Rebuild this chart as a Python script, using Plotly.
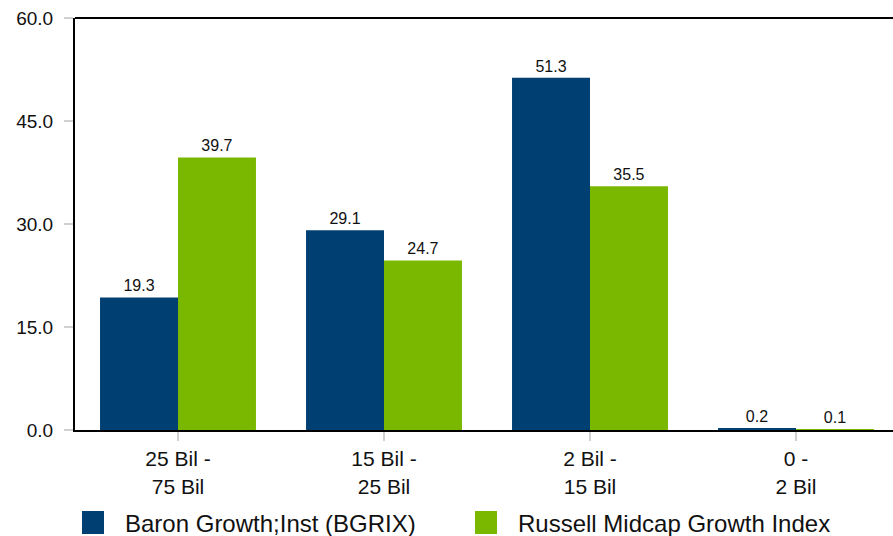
import plotly.graph_objects as go

categories = ["25 Bil -<br>75 Bil", "15 Bil -<br>25 Bil", "2 Bil -<br>15 Bil", "0 -<br>2 Bil"]
fund_name = "Baron Growth;Inst (BGRIX)"
index_name = "Russell Midcap Growth Index"
fund_values = [19.3, 29.1, 51.3, 0.2]
index_values = [39.7, 24.7, 35.5, 0.1]
y_ticks = [0, 15, 30, 45, 60]

BLUE = "#003f72"
GREEN = "#7ab800"
FONT = "Liberation Sans, Arial, sans-serif"

W = 899
L = 75
PW = W - L

fig = go.Figure()
for name, vals, col in [(fund_name, fund_values, BLUE), (index_name, index_values, GREEN)]:
    fig.add_trace(go.Bar(
        x=categories, y=vals, name=name, marker=dict(color=col, line=dict(width=0)),
        text=[f"{v:.1f}" for v in vals], textposition="outside",
        textfont=dict(size=16, color="#111", family=FONT), cliponaxis=False,
        showlegend=False,
    ))

fig.update_layout(
    width=W, height=536,
    margin=dict(l=L, r=0, t=18, b=106),
    plot_bgcolor="white", paper_bgcolor="white",
    barmode="group", bargap=0.243, bargroupgap=0,
    font=dict(family=FONT, size=19, color="#111"),
)
fig.update_xaxes(
    showline=True, linecolor="black", linewidth=2, ticks="outside", ticklen=9,
    tickcolor="#d0d0d0", tickwidth=2, showgrid=False, tickfont=dict(size=21),
)
fig.update_yaxes(
    range=[0, 60], tickvals=y_ticks, ticktext=[f"{v:.1f}" for v in y_ticks],
    showline=True, linecolor="black", linewidth=2, ticks="outside", ticklen=9,
    tickcolor="#d0d0d0", tickwidth=2, showgrid=False, zeroline=False,
    tickfont=dict(size=19), ticklabelstandoff=7,
)
# top border line of plot area
fig.add_shape(type="line", xref="paper", yref="paper", x0=0, x1=1, y0=1, y1=1,
              line=dict(color="black", width=2))

# custom legend
legend_items = [(fund_name, BLUE, 82), (index_name, GREEN, 475)]
for name, col, px in legend_items:
    x0 = (px - L) / PW
    x1 = (px + 22 - L) / PW
    fig.add_shape(type="rect", xref="paper", yref="paper", x0=x0, x1=x1,
                  y0=(430 - 534) / 412, y1=(430 - 511) / 412,
                  line=dict(width=0), fillcolor=col)
    fig.add_annotation(xref="paper", yref="paper", x=(px + 41 - L) / PW,
                       y=(430 - 523) / 412, text=name, showarrow=False,
                       xanchor="left", yanchor="middle",
                       font=dict(size=24, color="#111", family=FONT))

fig.write_html("out.html", config={"displayModeBar": False},
               post_script="document.body.style.margin='0';document.body.style.overflow='hidden';")
